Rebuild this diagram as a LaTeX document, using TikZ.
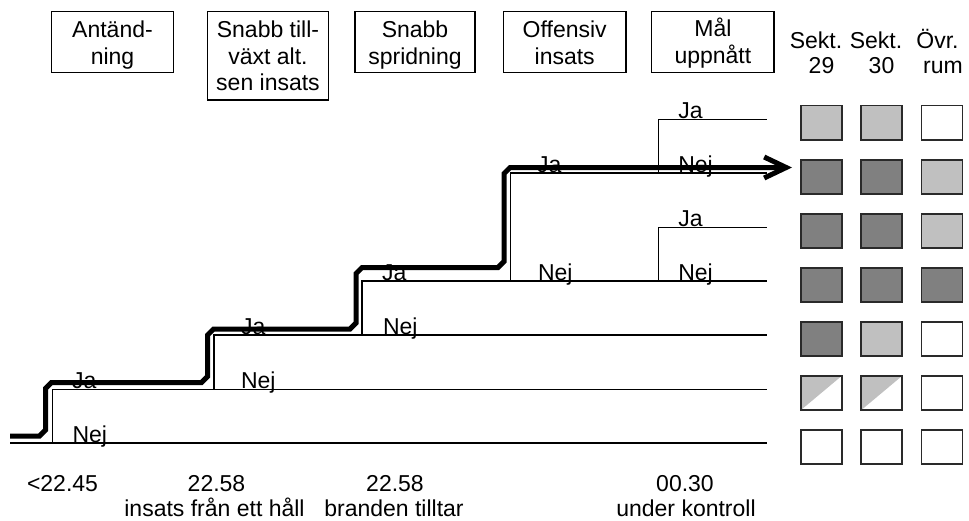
\documentclass[tikz,border=0pt]{standalone}
\usepackage{fontspec}
\setmainfont{Liberation Sans}
\usetikzlibrary{arrows.meta}
\definecolor{lgray}{HTML}{C0C0C0}
\definecolor{dgray}{HTML}{808080}
\definecolor{sqline}{HTML}{2A2A2A}
\begin{document}
\begin{tikzpicture}[x=1pt,y=-1pt,
  every node/.style={font=\fontsize{23}{26.6}\selectfont, inner sep=0pt, outer sep=0pt},
  hbox/.style={draw, line width=1.3pt, minimum width=121.6pt},
  txt/.style={anchor=base},
  lab/.style={anchor=base west},
  thin/.style={line width=1.3pt},
  path/.style={line width=5pt, line join=miter},
  sq/.style={draw=sqline, line width=1.6pt, minimum width=41pt, minimum height=34.3pt},
  halfsq/.style={sq, path picture={\fill[lgray] (path picture bounding box.north west) -- (path picture bounding box.north east) -- (path picture bounding box.south west) -- cycle;}}
]
\useasboundingbox (0,0) rectangle (969,520);

% header boxes
\node[hbox, minimum height=61pt] (b1) at (112.5,42.2) {};
\node[hbox, minimum height=88.3pt] (b2) at (268,55.85) {};
\node[hbox, minimum height=61pt, minimum width=120pt] (b3) at (415,42.2) {};
\node[hbox, minimum height=61pt, minimum width=122.7pt] (b4) at (564.7,42.2) {};
\node[hbox, minimum height=61pt, minimum width=122.3pt] (b5) at (712.9,42.2) {};

\node[txt] (b1a) at (112.5,37.7) {Antänd-};
\node[txt] (b1b) at (112.5,64.3) {ning};
\node[txt] (b2a) at (268,37.7) {Snabb till-};
\node[txt] (b2b) at (268,64.3) {växt alt.};
\node[txt] (b2c) at (268,90.9) {sen insats};
\node[txt] (b3a) at (415,37.7) {Snabb};
\node[txt] (b3b) at (415,64.3) {spridning};
\node[txt] (b4a) at (564.7,37.7) {Offensiv};
\node[txt] (b4b) at (564.7,64.3) {insats};
\node[txt] (b5a) at (712.9,36.5) {Mål};
\node[txt] (b5b) at (712.9,63) {uppnått};

% column headers
\node[txt] (c1a) at (816,48.3) {Sekt.};
\node[txt] (c2a) at (876,48.3) {Sekt.};
\node[txt] (c3a) at (937.5,48.3) {Övr.};
\node[txt] (c1b) at (821.5,73.3) {29};
\node[txt] (c2b) at (881.5,73.3) {30};
\node[txt] (c3b) at (943,73.3) {rum};

% thin tree lines
\coordinate (L0s) at (10,443);
\coordinate (L0e) at (767,443);
\draw[thin] (L0s) -- (L0e);
\draw[thin] (52.3,443) -- (52.3,389.3) -- (767,389.3);
\draw[thin] (214,389.3) -- (214,335) -- (767,335);
\draw[thin] (362,335) -- (362,281) -- (767,281);
\draw[thin] (510.4,281) -- (510.4,173) -- (767,173);
\draw[thin] (658.8,173) -- (658.8,119.3) -- (767,119.3);
\draw[thin] (658.8,281) -- (658.8,227.3) -- (767,227.3);

% labels
\node[lab] (n1) at (72.5,442.5) {Nej};
\node[lab] (j1) at (72,388.8) {Ja};
\node[lab] (n2) at (241,388.8) {Nej};
\node[lab] (j2) at (241,334.5) {Ja};
\node[lab] (n3) at (383,334.5) {Nej};
\node[lab] (j3) at (382,280.5) {Ja};
\node[lab] (n4) at (538,280.5) {Nej};
\node[lab] (j4) at (537,172.5) {Ja};
\node[lab] (j5) at (678.3,118.8) {Ja};
\node[lab] (n5) at (678.3,172.5) {Nej};
\node[lab] (j6) at (678.3,226.8) {Ja};
\node[lab] (n6) at (678.3,280.5) {Nej};

% thick path
\coordinate (P0) at (10,436);
\coordinate (Pend) at (792,167.5);
\draw[path, -{Straight Barb[length=22pt,width=21pt]}] (P0) -- (39.5,436) -- (45.5,430) -- (45.5,388.5) -- (51.5,382.5)
  -- (201.5,382.5) -- (207.7,376.3) -- (207.7,335) -- (213.7,329)
  -- (350,329) -- (356.2,322.8) -- (356.2,273.5) -- (362.2,267.5)
  -- (498,267.5) -- (504.2,261.3) -- (504.2,173.5) -- (510.2,167.5) -- (Pend);

% squares
\foreach \r/\a/\b/\c in {0/lgray/lgray/white, 1/dgray/dgray/lgray, 2/dgray/dgray/lgray, 3/dgray/dgray/dgray, 4/dgray/lgray/white, 6/white/white/white}{
  \node[sq, fill=\a] (s\r a) at (821.2,122.8+54.05*\r) {};
  \node[sq, fill=\b] (s\r b) at (881.6,122.8+54.05*\r) {};
  \node[sq, fill=\c] (s\r c) at (942,122.8+54.05*\r) {};
}
\node[halfsq] (s5a) at (821.2,393.05) {};
\node[halfsq] (s5b) at (881.6,393.05) {};
\node[sq, fill=white] (s5c) at (942,393.05) {};

% time labels
\node[txt] (t1) at (62.5,491.5) {<22.45};
\node[txt] (t2) at (216.5,491.5) {22.58};
\node[txt] (t2b) at (214.5,516) {insats från ett håll};
\node[txt] (t3) at (395,491.5) {22.58};
\node[txt] (t3b) at (394,516) {branden tilltar};
\node[txt] (t4) at (685,491.5) {00.30};
\node[txt] (t4b) at (686,516) {under kontroll};
\end{tikzpicture}
\end{document}
